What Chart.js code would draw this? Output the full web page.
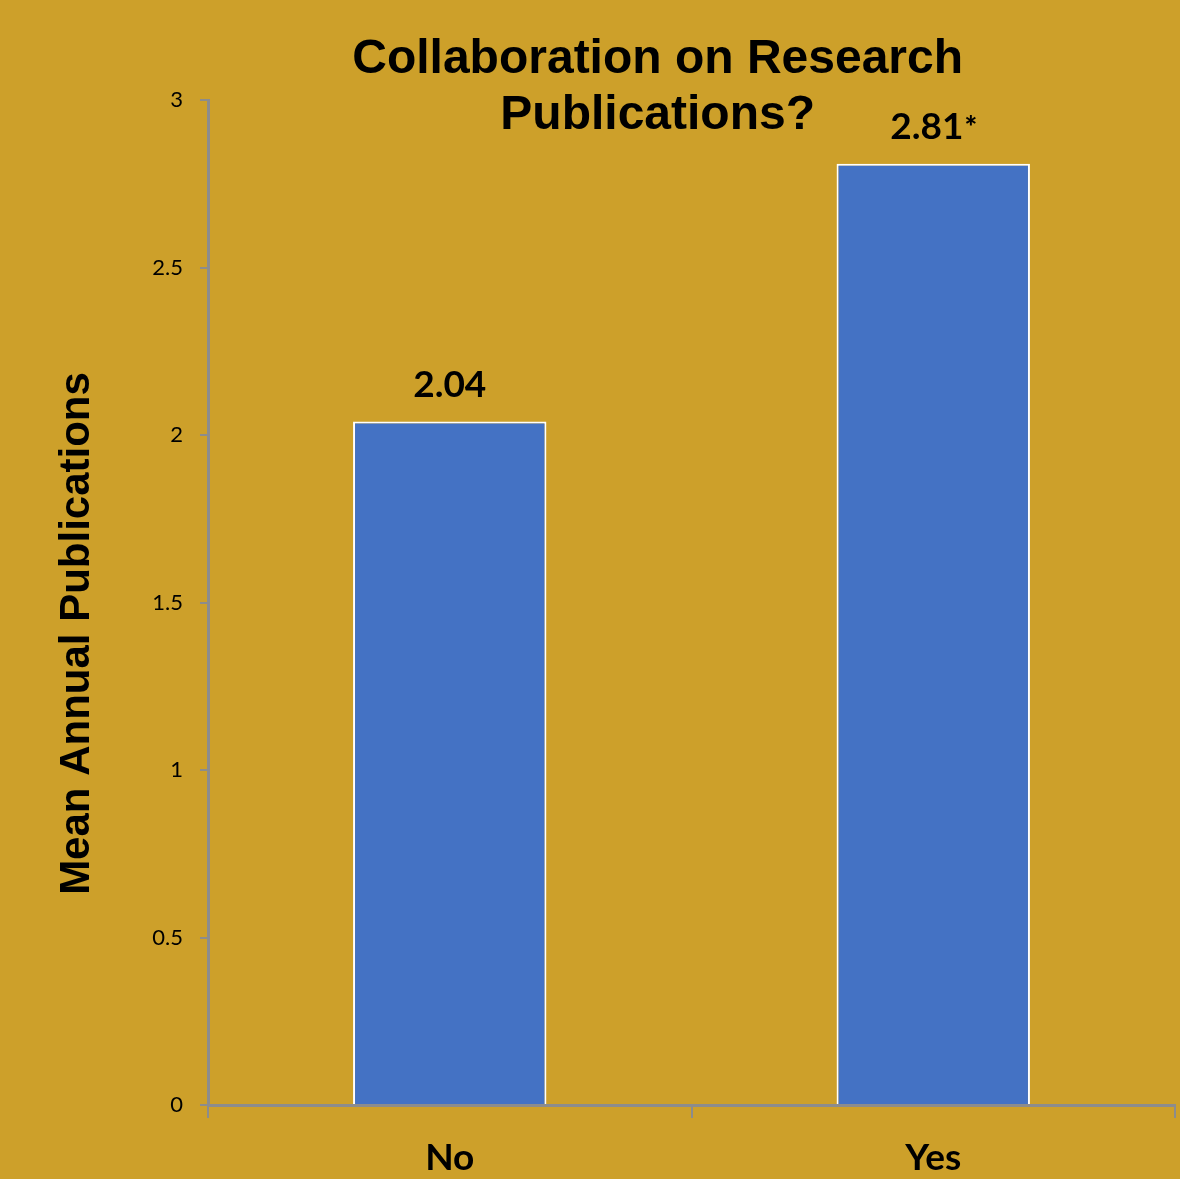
<!DOCTYPE html>
<html>
<head>
<meta charset="utf-8">
<script src="https://cdn.jsdelivr.net/npm/chart.js@4/dist/chart.umd.min.js"></script>
<style>
  html, body { margin: 0; padding: 0; background: #cda02a; }
  #wrap { width: 1180px; height: 1179px; }
</style>
</head>
<body>
<div id="wrap"><canvas id="pubChart"></canvas></div>
<script>
// data
var categories = ['No', 'Yes'];
var meanPubs = [2.04, 2.81];
var valueTexts = ['2.04', '2.81'];
var valueMarks = ['', '*'];
var yTicks = [0, 0.5, 1, 1.5, 2, 2.5, 3];
var titleLines = ['Collaboration on Research', 'Publications?'];
var yTitle = 'Mean Annual Publications';

var axisGrey = '#8c8c8c';

// title, y title and bar value labels drawn over the chart
var labelPlugin = {
  id: 'labelPlugin',
  afterDraw: function(chart) {
    var ctx = chart.ctx;
    var area = chart.chartArea;
    ctx.save();
    ctx.fillStyle = '#000';

    // chart title, overlapping the plot like the original
    ctx.font = 'bold 48px "Liberation Sans", Arial, sans-serif';
    ctx.textAlign = 'center';
    ctx.textBaseline = 'middle';
    var tx = area.left + (area.right - area.left) * 0.465;
    titleLines.forEach(function(line, i) {
      ctx.fillText(line, tx, area.top - 40 + i * 56);
    });

    // y axis title
    ctx.save();
    ctx.translate(77, (area.top + area.bottom) / 2 + 31);
    ctx.rotate(-Math.PI / 2);
    ctx.font = 'bold 42px "Liberation Sans", Arial, sans-serif';
    ctx.fillText(yTitle, 0, 0);
    ctx.restore();

    // value labels above bars
    var meta = chart.getDatasetMeta(0);
    ctx.textBaseline = 'alphabetic';
    ctx.textAlign = 'left';
    meta.data.forEach(function(bar, i) {
      ctx.font = 'bold 37px Lato, sans-serif';
      var w1 = ctx.measureText(valueTexts[i]).width;
      ctx.font = '900 30px Lato, sans-serif';
      var w2 = valueMarks[i] ? ctx.measureText(valueMarks[i]).width : 0;
      var x0 = bar.x - (w1 + w2) / 2;
      var y0 = bar.y - 25;
      ctx.font = 'bold 37px Lato, sans-serif';
      ctx.fillText(valueTexts[i], x0, y0);
      if (valueMarks[i]) {
        ctx.font = '900 30px Lato, sans-serif';
        ctx.fillText(valueMarks[i], x0 + w1 + 1, y0 - 1);
      }
    });
    ctx.restore();
  }
};

new Chart(document.getElementById('pubChart').getContext('2d'), {
  type: 'bar',
  data: {
    labels: categories,
    datasets: [{
      data: meanPubs,
      backgroundColor: '#4472c4',
      borderColor: '#ffffff',
      borderWidth: 2,
      categoryPercentage: 1.0,
      barPercentage: 0.4
    }]
  },
  options: {
    responsive: true,
    maintainAspectRatio: false,
    animation: false,
    layout: { padding: { top: 100, right: 5, left: 0, bottom: 0 } },
    plugins: {
      legend: { display: false },
      tooltip: { enabled: false },
      title: { display: false }
    },
    scales: {
      x: {
        grid: {
          offset: true,
          drawOnChartArea: false,
          drawTicks: true,
          tickLength: 13,
          color: axisGrey,
          lineWidth: 2
        },
        border: { color: axisGrey, width: 3 },
        ticks: {
          color: '#000',
          padding: 18,
          font: { family: 'Lato, sans-serif', size: 37, weight: 'bold' }
        },
        afterFit: function(scale) { scale.height = 74; }
      },
      y: {
        min: 0,
        max: 3,
        afterBuildTicks: function(scale) {
          scale.ticks = yTicks.map(function(v) { return { value: v }; });
        },
        grid: {
          drawOnChartArea: false,
          drawTicks: true,
          tickLength: 8,
          color: axisGrey,
          lineWidth: 2
        },
        border: { color: axisGrey, width: 3 },
        ticks: {
          color: '#000',
          padding: 17,
          font: { family: 'Lato, sans-serif', size: 22 },
          callback: function(value) { return String(value); }
        },
        afterFit: function(scale) { scale.width = 208; }
      }
    }
  },
  plugins: [labelPlugin]
});
</script>
</body>
</html>
